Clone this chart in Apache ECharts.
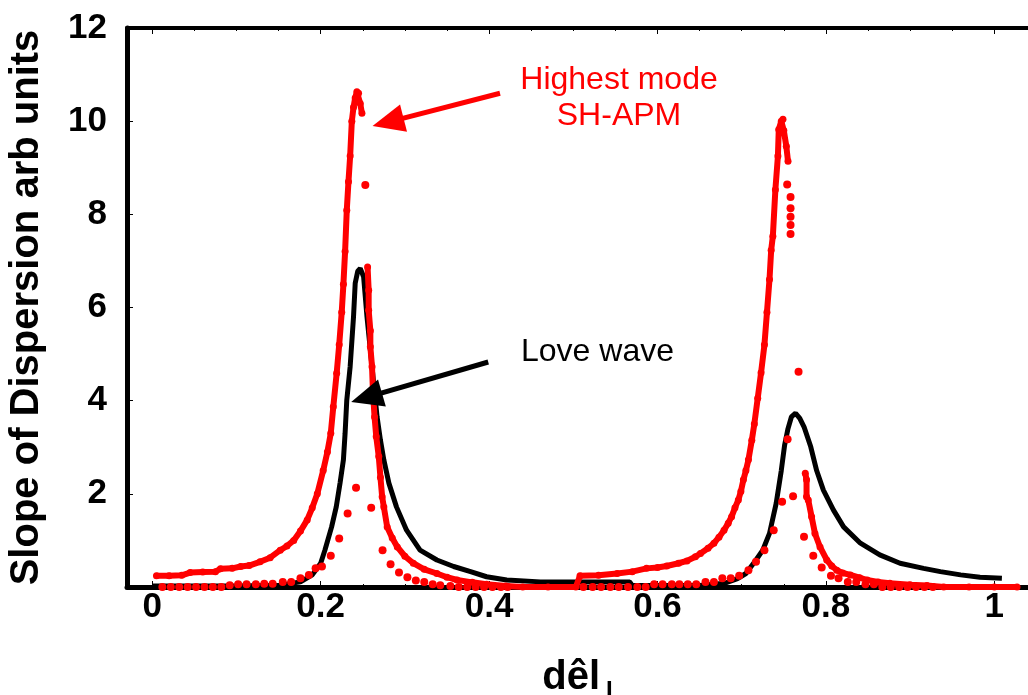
<!DOCTYPE html>
<html>
<head>
<meta charset="utf-8">
<script src="https://cdn.jsdelivr.net/npm/echarts@6/dist/echarts.min.js"></script>
<style>
  html, body { margin: 0; padding: 0; background: #fff; }
  #chart { width: 1028px; height: 695px; }
</style>
</head>
<body>
<div id="chart"></div>
<script>
// x tick labels shown on the axis
const xTicks = [0, 0.2, 0.4, 0.6, 0.8, 1]
const yTicks = [2, 4, 6, 8, 10, 12]

// Love wave (black line)
const loveX = [0.0, 0.1, 0.152, 0.176, 0.19, 0.2, 0.205, 0.213, 0.2185, 0.223, 0.227, 0.229, 0.231, 0.235, 0.239, 0.241, 0.244, 0.247, 0.251, 0.255, 0.259, 0.263, 0.267, 0.271, 0.275, 0.281, 0.29, 0.302, 0.318, 0.338, 0.358, 0.378, 0.397, 0.421, 0.461, 0.567, 0.57, 0.65, 0.68, 0.695, 0.705, 0.717, 0.725, 0.733, 0.741, 0.747, 0.751, 0.755, 0.759, 0.764, 0.769, 0.774, 0.782, 0.789, 0.797, 0.809, 0.821, 0.841, 0.864, 0.888, 0.916, 0.936, 0.96, 0.983, 1.009]
const loveY = [0.02, 0.02, 0.04, 0.11, 0.26, 0.51, 0.79, 1.29, 1.72, 2.23, 2.73, 3.3, 4.01, 4.73, 5.8, 6.52, 6.78, 6.84, 6.66, 5.8, 5.09, 4.37, 3.65, 3.15, 2.73, 2.23, 1.72, 1.22, 0.79, 0.58, 0.44, 0.33, 0.22, 0.15, 0.11, 0.11, 0.03, 0.03, 0.08, 0.18, 0.29, 0.58, 0.79, 1.15, 1.8, 2.5, 3.05, 3.4, 3.65, 3.73, 3.62, 3.44, 3.01, 2.5, 2.08, 1.65, 1.29, 0.94, 0.69, 0.51, 0.4, 0.33, 0.26, 0.21, 0.19]

// SH-APM dense branch, rising side of first peak
const apmRiseAX = [0.005, 0.02, 0.035, 0.045, 0.06, 0.075, 0.081, 0.095, 0.105, 0.115, 0.128, 0.14, 0.152, 0.16, 0.168, 0.176, 0.184, 0.19, 0.196, 0.203, 0.208, 0.212, 0.215, 0.219, 0.222, 0.225, 0.227, 0.229, 0.231, 0.233, 0.235, 0.237, 0.239, 0.241, 0.243, 0.245, 0.247, 0.249]
const apmRiseAY = [0.24, 0.24, 0.25, 0.31, 0.32, 0.33, 0.39, 0.4, 0.44, 0.46, 0.54, 0.63, 0.79, 0.88, 1.0, 1.2, 1.44, 1.7, 2.0, 2.5, 2.9, 3.3, 3.87, 4.59, 5.2, 5.9, 6.5, 7.2, 8.09, 8.7, 9.25, 10.0, 10.3, 10.5, 10.63, 10.6, 10.38, 10.17]
// falling side of first peak, baseline, rising side of second peak
const apmMidX = [0.2557, 0.257, 0.257, 0.259, 0.259, 0.261, 0.262, 0.264, 0.266, 0.269, 0.271, 0.273, 0.275, 0.279, 0.285, 0.291, 0.3, 0.31, 0.323, 0.338, 0.35, 0.362, 0.38, 0.397, 0.42, 0.44, 0.47, 0.503, 0.508, 0.53, 0.552, 0.57, 0.587, 0.6, 0.611, 0.625, 0.635, 0.645, 0.651, 0.66, 0.667, 0.673, 0.679, 0.684, 0.688, 0.692, 0.696, 0.699, 0.702, 0.705, 0.708, 0.712, 0.715, 0.719, 0.723, 0.727, 0.73, 0.733, 0.735, 0.737, 0.74, 0.743, 0.744, 0.747, 0.749, 0.75, 0.753, 0.755]
const apmMidY = [6.87, 6.37, 5.94, 5.5, 5.16, 4.73, 4.23, 3.65, 3.23, 2.8, 2.35, 1.94, 1.72, 1.29, 1.05, 0.86, 0.66, 0.51, 0.38, 0.29, 0.21, 0.15, 0.1, 0.06, 0.02, 0.0, 0.0, 0.0, 0.24, 0.25, 0.29, 0.33, 0.4, 0.42, 0.45, 0.51, 0.56, 0.65, 0.72, 0.83, 0.94, 1.07, 1.22, 1.37, 1.51, 1.7, 1.87, 2.05, 2.3, 2.5, 2.73, 3.15, 3.5, 4.05, 4.6, 5.2, 5.9, 6.6, 7.23, 7.53, 8.53, 9.25, 9.82, 10.0, 10.04, 9.8, 9.46, 9.14]
// falling side of second peak
const apmFallBX = [0.7755, 0.777, 0.777, 0.779, 0.783, 0.787, 0.793, 0.801, 0.807, 0.813, 0.82, 0.829, 0.84, 0.849, 0.862, 0.876, 0.9, 0.92, 0.94, 0.97, 1.0, 1.027]
const apmFallBY = [2.44, 2.3, 1.94, 1.87, 1.51, 1.15, 0.86, 0.58, 0.45, 0.36, 0.3, 0.26, 0.2, 0.15, 0.11, 0.08, 0.05, 0.03, 0.0, 0.0, 0.0, 0.0]

// SH-APM sparse inner points
const apmSparseX = [0.012, 0.022, 0.032, 0.042, 0.052, 0.062, 0.072, 0.082, 0.092, 0.102, 0.112, 0.123, 0.133, 0.143, 0.155, 0.165, 0.176, 0.186, 0.194, 0.2015, 0.212, 0.222, 0.232, 0.242, 0.253, 0.26, 0.2735, 0.283, 0.293, 0.303, 0.313, 0.323, 0.333, 0.342, 0.354, 0.364, 0.374, 0.384, 0.394, 0.404, 0.414, 0.422,
  0.512, 0.523, 0.533, 0.544, 0.554, 0.565, 0.576, 0.586, 0.596, 0.606, 0.617, 0.626, 0.636, 0.646, 0.657, 0.667, 0.677, 0.687, 0.697, 0.708, 0.717, 0.727, 0.738, 0.748, 0.754, 0.758, 0.758, 0.758, 0.758, 0.758, 0.7545, 0.761, 0.7675, 0.774, 0.785, 0.795, 0.806, 0.815, 0.826, 0.836, 0.847, 0.857, 0.867, 0.877, 0.887, 0.897, 0.907, 0.917, 0.927]
const apmSparseY = [0, 0, 0, 0, 0, 0, 0, 0, 0.04, 0.06, 0.06, 0.06, 0.07, 0.07, 0.11, 0.11, 0.19, 0.26, 0.4, 0.44, 0.67, 1.04, 1.58, 2.13, 8.63, 1.7, 0.79, 0.49, 0.31, 0.21, 0.14, 0.11, 0.06, 0.04, 0.02, 0, 0, 0, 0, 0, 0, 0,
  0, 0, 0, 0, 0, 0, 0, 0, 0.06, 0.06, 0.06, 0.06, 0.06, 0.06, 0.11, 0.11, 0.19, 0.19, 0.24, 0.36, 0.54, 0.79, 1.22, 1.83, 8.64, 8.37, 8.13, 7.95, 7.77, 7.58, 3.17, 1.95, 4.62, 1.08, 0.67, 0.42, 0.24, 0.19, 0.11, 0.11, 0.06, 0.06, 0, 0, 0, 0, 0, 0, 0]

const pairs = (xs, ys) => xs.map((x, i) => [x, ys[i]])
const font = "'Liberation Sans', Arial, sans-serif"
const red = '#ff0000'

const denseLine = (xs, ys) => ({
  type: 'line',
  data: pairs(xs, ys),
  showSymbol: true,
  symbol: 'circle',
  symbolSize: 7,
  itemStyle: { color: red, opacity: 1 },
  lineStyle: { color: red, width: 6 },
  silent: true,
  z: 3
})

const chart = echarts.init(document.getElementById('chart'))

const option = {
  animation: false,
  backgroundColor: '#ffffff',
  grid: { left: 127, top: 28, right: 0, bottom: 108, outerBoundsMode: 'none', containLabel: false },
  xAxis: [
    {
      type: 'value',
      min: -0.03,
      max: 1.04,
      splitNumber: 5,
      name: '{a|dêl}{s|I}',
      nameLocation: 'middle',
      nameGap: 66,
      nameTextStyle: {
        rich: {
          a: { fontFamily: font, fontWeight: 'bold', fontSize: 40, color: '#000' },
          s: { fontFamily: font, fontWeight: 'bold', fontSize: 24, color: '#000', padding: [26, 0, 0, 6] }
        }
      },
      axisLine: { onZero: false, lineStyle: { color: '#000', width: 5 } },
      axisTick: { inside: true, length: 6, lineStyle: { color: '#000', width: 1 } },
      minorTick: { show: true, splitNumber: 4, length: 3, lineStyle: { color: '#000' } },
      splitLine: { show: false },
      axisLabel: {
        margin: 3,
        showMinLabel: false,
        showMaxLabel: false,
        fontFamily: font,
        fontWeight: 'bold',
        fontSize: 35,
        color: '#000',
        formatter: v => xTicks.some(t => Math.abs(t - v) < 1e-6) ? String(v) : ''
      }
    },
    {
      type: 'value',
      position: 'top',
      min: -0.03,
      max: 1.04,
      splitNumber: 5,
      axisLine: { onZero: false, lineStyle: { color: '#000', width: 4 } },
      axisTick: { inside: true, length: 6, lineStyle: { color: '#000' } },
      minorTick: { show: true, splitNumber: 4, length: 3, lineStyle: { color: '#000' } },
      axisLabel: { show: false },
      splitLine: { show: false }
    }
  ],
  yAxis: {
    type: 'value',
    min: 0,
    max: 12,
    interval: 2,
    name: 'Slope of Dispersion arb units',
    nameLocation: 'middle',
    nameGap: 80,
    nameTextStyle: { fontFamily: font, fontWeight: 'bold', fontSize: 40, color: '#000' },
    axisLine: { show: true, onZero: false, lineStyle: { color: '#000', width: 5 } },
    axisTick: { inside: true, length: 6, lineStyle: { color: '#000' } },
    minorTick: { show: true, splitNumber: 4, length: 3, lineStyle: { color: '#000' } },
    splitLine: { show: false },
    axisLabel: {
      margin: 20,
      showMinLabel: false,
      fontFamily: font,
      fontWeight: 'bold',
      fontSize: 35,
      color: '#000',
      formatter: v => yTicks.includes(v) ? String(v) : ''
    }
  },
  series: [
    {
      name: 'Love wave',
      type: 'line',
      data: pairs(loveX, loveY),
      showSymbol: false,
      lineStyle: { color: '#000', width: 5 },
      silent: true,
      z: 2,
      markLine: {
        silent: true,
        symbol: ['none', 'triangle'],
        symbolSize: [28, 32],
        label: { show: false },
        lineStyle: { color: '#000', width: 5, type: 'solid' },
        data: [[{ coord: [0.399, 4.83] }, { coord: [0.2545, 4.07] }]]
      }
    },
    denseLine(apmRiseAX, apmRiseAY),
    denseLine(apmMidX, apmMidY),
    denseLine(apmFallBX, apmFallBY),
    {
      name: 'Highest mode SH-APM',
      type: 'scatter',
      data: pairs(apmSparseX, apmSparseY),
      symbolSize: 8,
      itemStyle: { color: red, opacity: 1 },
      silent: true,
      z: 4,
      markLine: {
        silent: true,
        symbol: ['none', 'triangle'],
        symbolSize: [28, 32],
        label: { show: false },
        lineStyle: { color: red, width: 5, type: 'solid' },
        data: [[{ coord: [0.413, 10.6] }, { coord: [0.28, 9.98] }]]
      }
    }
  ],
  graphic: [
    {
      type: 'text',
      x: 619,
      y: 62,
      style: {
        text: 'Highest mode\nSH-APM',
        align: 'center',
        fill: red,
        font: '32px ' + font,
        lineHeight: 36
      }
    },
    {
      type: 'text',
      x: 521,
      y: 336,
      style: {
        text: 'Love wave',
        fill: '#000',
        font: '32px ' + font
      }
    }
  ]
}

chart.setOption(option)
</script>
</body>
</html>
